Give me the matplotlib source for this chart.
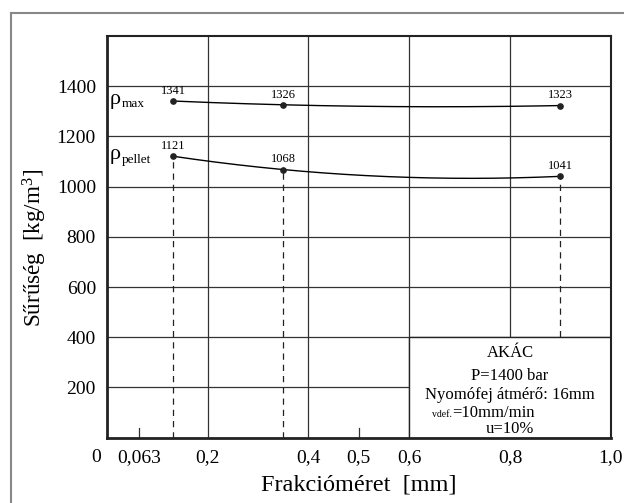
import numpy as np
import matplotlib.pyplot as plt
from matplotlib.patches import Rectangle
from matplotlib.lines import Line2D

plt.rcParams['font.family'] = ['Liberation Serif', 'DejaVu Serif']
plt.rcParams['mathtext.fontset'] = 'custom'
plt.rcParams['mathtext.rm'] = 'Liberation Serif'

# data
frakcio = [0.1315, 0.35, 0.9]          # mm, fraction midpoints
rho_max = [1341, 1326, 1323]
rho_pellet = [1121, 1068, 1041]
xticks = [0.063, 0.2, 0.4, 0.5, 0.6, 0.8, 1.0]
xticklabels = ['0,063', '0,2', '0,4', '0,5', '0,6', '0,8', '1,0']
yticks = [200, 400, 600, 800, 1000, 1200, 1400]
info_lines = ['AKÁC', 'P=1400 bar', 'Nyomófej átmérő: 16mm', '=10mm/min', 'u=10%']

fig = plt.figure(figsize=(6.24, 5.03), dpi=100)
ax = fig.add_axes([107/624, 1-437.7/503, (610.7-107)/624, (437.7-36)/503])

# outer page frame (top + left only)
fig.add_artist(Line2D([11/624, 1], [1-13/503, 1-13/503], color='#888888', lw=1.5))
fig.add_artist(Line2D([11/624, 11/624], [0, 1-13/503], color='#888888', lw=1.5))

ax.set_xlim(0, 1.0)
ax.set_ylim(0, 1600)

# grid
for gx in [0.2, 0.4, 0.6, 0.8]:
    ax.axvline(gx, color='#333333', lw=0.9, zorder=1)
for gy in yticks:
    ax.axhline(gy, color='#333333', lw=0.9, zorder=1)

# fitted curves
xs = np.linspace(frakcio[0], frakcio[-1], 200)
for vals in [rho_max, rho_pellet]:
    c = np.polyfit(frakcio, vals, 2)
    ax.plot(xs, np.polyval(c, xs), color='black', lw=1.0, zorder=3)
    ax.plot(frakcio, vals, 'o', color='#222222', ms=3.8, zorder=4)
    for x, v in zip(frakcio, vals):
        ax.annotate(str(v), (x, v), xytext=(0, 3), textcoords='offset points',
                    ha='center', va='bottom', fontsize=9)

# dashed drop lines
for x, v in zip(frakcio, rho_pellet):
    ax.plot([x, x], [0, v], color='#222222', lw=0.9, ls=(0, (5, 4)), zorder=2)

ax.text(0.004, 1341, r'$\mathregular{\rho}$', fontsize=16, va='center', ha='left')
ax.text(0.029, 1328, 'max', fontsize=9.5, va='center', ha='left')
ax.text(0.004, 1121, r'$\mathregular{\rho}$', fontsize=16, va='center', ha='left')
ax.text(0.029, 1108, 'pellet', fontsize=9.5, va='center', ha='left')

# info box
ax.add_patch(Rectangle((0.6, 0), 0.4, 400, facecolor='white', edgecolor='#222222',
                       lw=1.0, zorder=5))
for i, (txt, y) in enumerate(zip(info_lines, [321, 229, 154, 81, 18])):
    if i == 3:
        ax.text(0.685, y, txt, ha='left', va='baseline', fontsize=12, zorder=6)
        ax.text(0.685, y, 'vdef.', ha='right', va='baseline', fontsize=7, zorder=6)
    else:
        ax.text(0.8, y, txt, ha='center', va='baseline', fontsize=12, zorder=6)

# short ticks inside at bottom
for tx in [0.063, 0.5]:
    ax.plot([tx, tx], [0, 40], color='#333333', lw=0.9, zorder=6)

ax.set_xticks(xticks)
ax.set_xticklabels(xticklabels, fontsize=14)
ax.set_yticks(yticks)
ax.set_yticklabels([str(t) for t in yticks], fontsize=14)
ax.tick_params(length=0, pad=8)
# the "0" of both axes, sitting left of the corner
ax.text(-0.022, -0.027, '0', transform=ax.transAxes, ha='center', va='top', fontsize=14)

for s in ['left', 'bottom']:
    ax.spines[s].set_linewidth(2.0)
for s in ['top', 'right']:
    ax.spines[s].set_linewidth(1.5)
for s in ax.spines.values():
    s.set_color('#222222')
    s.set_zorder(7)

ax.set_xlabel('Frakcióméret  [mm]', fontsize=17.5, labelpad=6)
ax.set_ylabel(r'Sűrűség  [kg/m$\mathregular{^3}$]', fontsize=16.7)
ax.yaxis.set_label_coords(-0.115, 0.472)

fig.savefig('out.png', dpi=100)
